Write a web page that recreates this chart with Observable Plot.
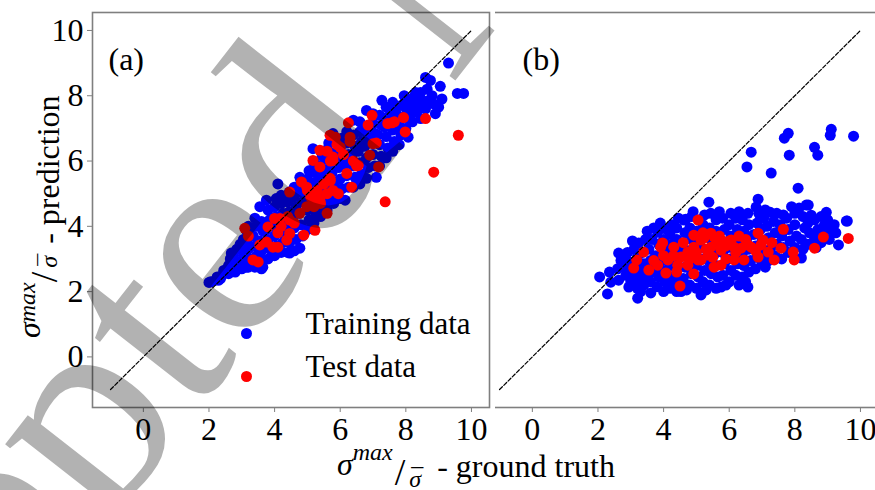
<!DOCTYPE html>
<html>
<head>
<meta charset="utf-8">
<script src="https://cdn.jsdelivr.net/npm/d3@7"></script>
<script src="https://cdn.jsdelivr.net/npm/@observablehq/plot@0.6"></script>
<style>
  html, body { margin: 0; padding: 0; background: white; }
  #wrap { position: relative; width: 875px; height: 490px; overflow: hidden; background: white; font-family: "Liberation Serif", serif; }
  #pa { position: absolute; left: 0; top: 0; width: 500px; height: 490px; }
  #pb { position: absolute; left: 495px; top: 0; width: 380px; height: 490px; overflow: hidden; }
  #pbInner { position: absolute; left: -106px; top: 0; width: 500px; height: 490px; }
  #ov { position: absolute; left: 0; top: 0; pointer-events: none; }
</style>
</head>
<body>
<div id="wrap">
  <div id="pa"></div>
  <div id="pb"><div id="pbInner"></div></div>
  <svg id="ov" width="875" height="490"></svg>
</div>
<script>
// ---------- data ----------
const xTicks = [0, 2, 4, 6, 8, 10];
const yTicks = [0, 2, 4, 6, 8, 10];
const diag = [-1, 10];
const seriesNames = ["Training data", "Test data"];
const panelLabels = ["(a)", "(b)"];

// panel (a): training data [ground truth, prediction]
const aTrain = [
[2.0,2.28],[2.05,2.3],[2.3,2.35],[2.2,2.35],[2.25,2.45],
[2.4,2.5],[2.45,2.65],[2.35,2.4],
[2.6,2.55],[2.6,2.8],[2.65,3.0],[2.55,2.7],[2.68,3.18],[2.73,2.66],
[2.8,2.6],[2.8,2.85],[2.75,3.1],[2.85,3.3],[2.7,2.95],
[3.0,2.7],[3.0,2.95],[3.05,3.2],[2.95,3.45],[3.05,3.6],[3.1,2.85],[3.14,2.75],[3.14,3.88],
[3.2,2.75],[3.25,3.0],[3.2,3.3],[3.15,3.55],[3.25,3.8],[3.2,4.0],
[3.4,2.75],[3.45,3.1],[3.4,3.4],[3.35,3.7],[3.45,4.0],[3.4,4.25],
[3.6,2.7],[3.64,2.75],[3.65,2.95],[3.6,3.25],[3.55,3.55],[3.65,3.85],[3.6,4.15],[3.55,4.6],
[3.8,3.0],[3.85,3.3],[3.8,3.6],[3.75,3.9],[3.85,4.2],[3.8,4.5],[3.75,4.8],
[4.0,3.1],[4.05,3.4],[4.0,3.7],[3.95,4.0],[4.05,4.3],[4.0,4.6],[4.05,4.85],[4.1,5.3],[4.16,3.27],
[4.2,3.2],[4.25,3.5],[4.2,3.8],[4.15,4.1],[4.25,4.4],[4.2,4.7],[4.2,4.95],
[4.4,3.2],[4.46,3.18],[4.45,3.5],[4.4,3.85],[4.35,4.15],[4.45,4.45],[4.4,4.75],[4.45,5.05],
[4.6,3.25],[4.65,3.6],[4.6,3.95],[4.55,4.3],[4.65,4.6],[4.6,4.9],[4.6,5.2],
[4.77,3.33],[4.85,3.7],[4.8,4.05],[4.75,4.4],[4.85,4.75],[4.8,5.05],[4.8,5.4],[4.77,5.5],
[5.0,3.9],[5.05,4.2],[5.0,4.5],[4.95,4.85],[5.05,5.15],[5.0,5.45],[5.05,5.7],
[5.2,4.1],[5.25,4.4],[5.2,4.7],[5.15,5.0],[5.25,5.35],[5.2,5.65],[5.2,5.95],[5.17,6.38],
[5.4,4.3],[5.45,4.6],[5.4,4.9],[5.35,5.25],[5.45,5.55],[5.4,5.85],[5.45,6.15],
[5.6,4.5],[5.65,4.8],[5.6,5.1],[5.55,5.45],[5.65,5.75],[5.6,6.05],[5.6,6.35],[5.65,6.55],
[5.8,4.7],[5.85,5.0],[5.8,5.3],[5.75,5.65],[5.85,5.95],[5.8,6.25],[5.78,6.84],
[6.0,4.85],[6.05,5.15],[6.0,5.45],[5.95,5.8],[6.05,6.1],[6.0,6.4],[6.05,6.7],
[6.15,4.8],[6.25,5.2],[6.2,5.55],[6.15,5.9],[6.25,6.2],[6.2,6.55],[6.2,6.9],
[6.4,5.2],[6.45,5.5],[6.4,5.85],[6.35,6.15],[6.45,6.45],[6.4,6.8],[6.4,7.25],
[6.6,5.3],[6.65,5.6],[6.6,5.95],[6.55,6.3],[6.65,6.6],[6.6,6.9],[6.6,7.2],
[6.8,5.47],[6.85,5.8],[6.8,6.1],[6.75,6.45],[6.85,6.75],[6.8,7.05],[6.8,7.55],
[7.1,5.5],[7.05,5.85],[7.0,6.2],[6.95,6.55],[7.05,6.85],[7.0,7.15],[7.0,7.45],
[7.2,5.85],[7.25,6.15],[7.2,6.5],[7.15,6.8],[7.25,7.1],[7.2,7.4],[7.27,7.86],
[7.4,6.1],[7.45,6.4],[7.4,6.75],[7.35,7.05],[7.45,7.35],[7.4,7.65],
[7.6,6.3],[7.65,6.6],[7.6,6.95],[7.55,7.25],[7.65,7.55],[7.6,7.8],
[7.8,6.5],[7.85,6.8],[7.8,7.1],[7.75,7.4],[7.85,7.7],[7.83,7.03],
[8.04,7.55],[8.07,6.73],[8.0,7.0],[8.05,7.3],[8.0,7.85],[7.95,8.0],
[8.23,7.95],[8.2,7.2],[8.25,7.5],[8.15,7.75],[8.3,8.1],
[8.35,7.55],[8.45,7.3],[8.4,7.8],[8.5,7.86],[8.45,8.1],
[8.6,8.56],[8.75,8.47],[8.6,7.6],[8.7,7.85],[8.65,8.2],
[8.9,7.45],[8.85,7.75],[8.8,8.0],
[9.05,8.29],[9.1,7.9],[9.0,7.65],
[9.3,9.0],[9.57,8.07],[9.76,8.07]
];

// panel (a): test data
const aTest = [
[9.6,6.79],[8.85,5.66],[7.37,4.75],[8.6,7.3],[7.93,7.33],[7.98,6.89],[7.58,7.17],[7.65,7.2],[7.45,7.15],
[6.97,7.4],[6.85,7.1],[6.25,7.17],[7.0,6.53],[7.1,6.55],[7.17,5.82],[6.9,6.18],[6.35,5.2],[6.55,5.87],
[6.5,5.85],[6.2,5.62],[5.69,6.79],[5.85,6.73],[5.6,4.4],[5.38,6.33],[5.17,6.02],[5.78,6.12],[6.3,6.73],
[6.0,6.42],[5.78,6.02],[5.38,5.82],[5.6,6.3],[5.9,6.5],[6.1,6.2],[5.7,6.0],[6.3,6.6],[6.4,6.0],
[5.17,4.8],[4.98,5.2],[5.28,5.0],[4.46,5.05],[4.82,5.36],[5.78,5.1],[5.69,5.47],[5.1,4.9],[5.3,5.1],
[5.5,5.3],[5.2,4.6],[5.4,4.7],[5.6,5.0],[5.7,5.4],[5.0,5.1],[4.98,4.6],[5.38,4.8],[5.94,5.0],[5.23,3.88],
[4.77,4.4],[4.46,4.19],[4.16,4.24],[4.0,4.24],[3.8,3.98],[4.2,4.0],[4.4,4.3],[4.6,4.1],[4.1,3.8],
[4.46,3.78],[4.37,3.58],[4.1,3.36],[4.89,3.73],[3.09,3.94],[3.2,3.7],[3.34,2.97],[3.5,2.91],
[3.75,3.52],[3.95,3.36],[3.55,3.43]
];

// panel (b): training data
const bTrain = [
[2.05,2.45],[2.29,1.93],[2.39,2.29],[2.35,2.6],
[2.63,2.35],[2.63,3.18],[2.6,2.7],[2.7,2.95],
[2.78,2.75],[2.94,2.14],[2.85,2.5],[2.9,3.2],[2.85,2.95],
[3.0,2.3],[3.05,2.6],[3.0,2.9],[3.1,3.3],[3.05,3.55],[3.2,2.1],
[3.21,1.8],[3.24,3.49],[3.2,2.4],[3.25,2.75],[3.2,3.05],[3.3,2.0],
[3.4,2.2],[3.45,2.5],[3.4,2.85],[3.35,3.2],[3.45,3.6],[3.5,3.85],
[3.61,1.96],[3.6,2.3],[3.65,2.6],[3.6,2.95],[3.55,3.3],[3.65,3.6],[3.7,3.95],
[3.82,3.82],[3.8,2.15],[3.85,2.45],[3.8,2.8],[3.75,3.1],[3.85,3.45],[3.9,4.1],
[4.0,2.0],[4.05,2.3],[4.0,2.65],[3.95,2.95],[4.05,3.3],[4.0,3.6],[4.1,3.9],
[4.2,2.1],[4.25,2.45],[4.2,2.8],[4.15,3.1],[4.25,3.45],[4.2,3.75],[4.25,4.05],
[4.4,2.0],[4.45,2.3],[4.4,2.65],[4.35,2.95],[4.45,3.3],[4.4,3.6],[4.4,3.95],[4.45,4.25],
[4.53,2.0],[4.62,4.19],[4.68,4.22],[4.6,2.4],[4.65,2.75],[4.6,3.1],[4.55,3.45],[4.65,3.8],
[4.8,2.2],[4.85,2.55],[4.8,2.9],[4.75,3.25],[4.85,3.6],[4.8,3.95],[4.85,4.3],
[5.0,2.1],[5.05,2.45],[5.0,2.8],[4.95,3.15],[5.05,3.5],[5.0,3.85],[5.1,4.2],
[5.14,1.9],[5.2,2.3],[5.25,2.65],[5.2,3.0],[5.15,3.35],[5.25,3.7],[5.2,4.05],[5.25,4.35],
[5.38,4.74],[5.44,4.4],[5.4,2.2],[5.45,2.55],[5.4,2.9],[5.35,3.25],[5.45,3.6],[5.4,3.95],
[5.6,2.1],[5.65,2.45],[5.6,2.8],[5.55,3.15],[5.65,3.5],[5.6,3.85],[5.6,4.2],
[5.75,2.14],[5.8,2.5],[5.85,2.85],[5.8,3.2],[5.75,3.55],[5.85,3.9],[5.8,4.25],
[6.0,2.3],[6.05,2.65],[6.0,3.0],[5.95,3.35],[6.05,3.7],[6.0,4.05],[6.05,4.4],
[6.3,2.2],[6.2,2.5],[6.25,2.85],[6.2,3.2],[6.15,3.55],[6.25,3.9],[6.2,4.25],
[6.4,2.45],[6.45,2.8],[6.4,3.15],[6.35,3.5],[6.45,3.85],[6.4,4.2],
[6.57,2.14],[6.6,2.6],[6.65,2.95],[6.6,3.3],[6.55,3.65],[6.57,4.4],[6.67,6.27],[6.54,5.82],[6.6,4.05],
[6.88,4.83],[6.82,4.59],[6.8,2.7],[6.85,3.05],[6.8,3.4],[6.75,3.75],[6.85,4.1],[6.9,4.4],
[7.0,2.9],[7.05,3.2],[7.0,3.55],[6.95,3.9],[7.05,4.25],
[7.28,5.63],[7.25,4.43],[7.2,2.95],[7.25,3.3],[7.2,3.65],[7.15,4.0],
[7.4,3.1],[7.45,3.45],[7.4,3.8],[7.35,4.15],[7.45,4.4],
[7.68,6.7],[7.6,3.0],[7.65,3.35],[7.6,3.7],[7.55,4.05],[7.65,4.35],
[7.8,6.85],[7.83,6.18],[7.8,3.2],[7.85,3.55],[7.8,3.9],[7.75,4.25],
[8.1,5.17],[8.13,4.56],[8.2,3.03],[8.0,3.35],[8.05,3.7],[8.0,4.05],[8.0,4.4],
[8.25,3.3],[8.2,3.6],[8.3,3.95],[8.25,4.3],
[8.41,4.65],[8.35,4.65],[8.4,3.45],[8.45,3.8],[8.5,4.34],[8.4,4.1],
[8.6,6.42],[8.6,3.64],[8.65,3.35],[8.7,3.9],[8.6,4.2],
[8.7,6.18],[8.9,4.04],[8.96,4.43],[8.8,3.5],[8.85,3.75],
[9.11,6.97],[9.08,6.79],[9.05,3.6],[9.1,3.9],[9.0,4.2],
[9.33,3.43],[9.25,3.8],[9.6,4.16],[9.57,4.16],[9.79,6.76],
[3.3,2.55],[3.9,2.55],[4.3,2.2],[4.7,2.05],[5.3,2.05],[5.9,2.2],[6.5,2.3],[7.1,2.75],
[4.9,4.45],[5.7,4.45],[6.3,4.45],[7.1,4.5],[7.9,4.6],[8.8,4.3],[9.2,4.05]
];

// panel (b): test data
const bTest = [
[5.05,4.19],[7.65,3.91],[9.63,3.63],[8.87,3.67],[4.5,2.17],[4.92,2.54],[4.07,2.57],[3.55,2.66],
[3.09,2.72],[3.18,2.97],[3.39,3.21],[3.91,3.36],[3.97,3.49],[4.31,3.36],[4.53,3.06],[4.74,2.81],
[5.05,2.97],[4.92,3.36],[5.14,3.58],[5.44,3.36],[5.54,3.67],[5.75,3.27],[5.75,2.81],[6.15,2.97],
[6.06,3.58],[6.15,3.36],[6.45,2.97],[6.57,3.43],[6.88,3.79],[7.03,3.58],[6.88,3.06],[7.19,3.21],
[7.37,2.97],[7.58,3.33],[7.95,3.21],[7.98,2.97],[8.6,3.33],[5.44,3.79],[5.23,3.64],[4.92,3.73],
[4.74,3.21],[4.13,2.97],[4.43,2.81],[3.82,2.81],[5.75,3.58],[6.36,3.33],[6.67,3.36],[6.97,3.43],
[5.35,3.12],[5.14,2.97],[5.54,2.75],
[4.3,3.1],[4.6,3.5],[4.8,3.0],[5.3,3.3],[5.6,3.45],[5.9,3.4],[6.2,3.2],[6.5,3.6],[5.0,3.2],
[5.9,3.0],[6.3,3.7],[5.2,3.8],[4.4,2.6],[5.7,3.7],[6.0,3.55],[4.0,3.1],[3.7,2.95],[6.8,3.25],
[7.3,3.5],[5.5,3.05]
];

// ---------- plots ----------
const R = 5.5;
function panel(train, test, label, labelDx, isLeft) {
  const marks = [
    Plot.dot(train, {x: d => d[0], y: d => d[1], r: R, fill: "#0000ff", stroke: "none"}),
    Plot.dot(test, {x: d => d[0], y: d => d[1], r: R, fill: "#ff0000", stroke: "none"}),
    Plot.line(diag.map(v => [v, v]), {x: d => d[0], y: d => d[1], stroke: "black", strokeWidth: 1.2, strokeDasharray: "4,2"}),
    Plot.frame({stroke: "#7f7f7f", strokeWidth: 1.6}),
    Plot.axisX({ticks: xTicks, tickSize: 5, tickPadding: 5, fontSize: 32, stroke: "#7f7f7f", fill: "black", label: null}),
    Plot.text([label], {frameAnchor: "top-left", dx: labelDx, dy: 35, fontSize: 32, textAnchor: "start", fill: "black"})
  ];
  if (isLeft) {
    marks.push(
      Plot.axisY({ticks: yTicks, tickSize: 5, tickPadding: 4, fontSize: 32, stroke: "#7f7f7f", fill: "black", label: null}),
      Plot.dot([seriesNames[0]], {frameAnchor: "bottom-left", dx: 154, dy: -74, r: R, fill: "#0000ff"}),
      Plot.dot([seriesNames[1]], {frameAnchor: "bottom-left", dx: 154, dy: -31, r: R, fill: "#ff0000"}),
      Plot.text([seriesNames[0]], {frameAnchor: "bottom-left", dx: 213, dy: -74, fontSize: 31, textAnchor: "start", fill: "black"}),
      Plot.text([seriesNames[1]], {frameAnchor: "bottom-left", dx: 213, dy: -31, fontSize: 31, textAnchor: "start", fill: "black"})
    );
  }
  return Plot.plot({
    width: 500, height: 490,
    marginLeft: 92, marginRight: 11, marginTop: 12, marginBottom: 83,
    x: {domain: [-1.55, 10.55]},
    y: isLeft ? {domain: [-1.55, 10.55]} : {domain: [-1.55, 10.55], axis: null},
    style: {fontFamily: "Liberation Serif", background: "transparent", maxWidth: "none", overflow: "visible"},
    marks
  });
}

document.getElementById("pa").appendChild(panel(aTrain, aTest, panelLabels[0], 16, true));
document.getElementById("pbInner").appendChild(panel(bTrain, bTest, panelLabels[1], 41, false));

// ---------- overlay: axis titles + watermark ----------
const ov = d3.select("#ov");
const FF = "Liberation Serif";

const xl = ov.append("text").attr("x", 337).attr("y", 477)
  .attr("font-family", FF).attr("font-size", 32).attr("fill", "black");
xl.append("tspan").attr("font-style", "italic").attr("dy", -2).text("σ");
xl.append("tspan").attr("font-style", "italic").attr("font-size", 24).attr("dy", -15).text("max");
xl.append("tspan").attr("font-size", 38).attr("dx", 2).attr("dy", 25).text("/");
xl.append("tspan").attr("font-style", "italic").attr("font-size", 24).attr("dx", 4).attr("dy", 2).text("σ");
xl.append("tspan").attr("font-size", 24).attr("dx", -10).attr("dy", -2).text("\u00AF");
xl.append("tspan").attr("dx", 6).attr("dy", -8).text(" - ground truth");

const yl = ov.append("text").attr("transform", "translate(55,338) rotate(-90)")
  .attr("font-family", FF).attr("font-size", 32).attr("fill", "black");
yl.append("tspan").attr("font-style", "italic").attr("dy", -15).text("σ");
yl.append("tspan").attr("font-style", "italic").attr("font-size", 24).attr("dy", -5).text("max");
yl.append("tspan").attr("font-size", 38).attr("dy", 22).text("/");
yl.append("tspan").attr("font-style", "italic").attr("font-size", 24).attr("dx", 4).attr("dy", 0).text("σ");
yl.append("tspan").attr("font-size", 24).attr("dx", -10).attr("dy", -2).text("\u00AF");
yl.append("tspan").attr("dx", 2).attr("dy", 4).text(" - prediction");

// watermark
ov.append("text")
  .attr("transform", "translate(-256,991) rotate(-52)")
  .attr("font-family", FF).attr("font-size", 285)
  .attr("fill", "black").attr("fill-opacity", 0.3)
  .text("Accepted Manuscript");
</script>
</body>
</html>
